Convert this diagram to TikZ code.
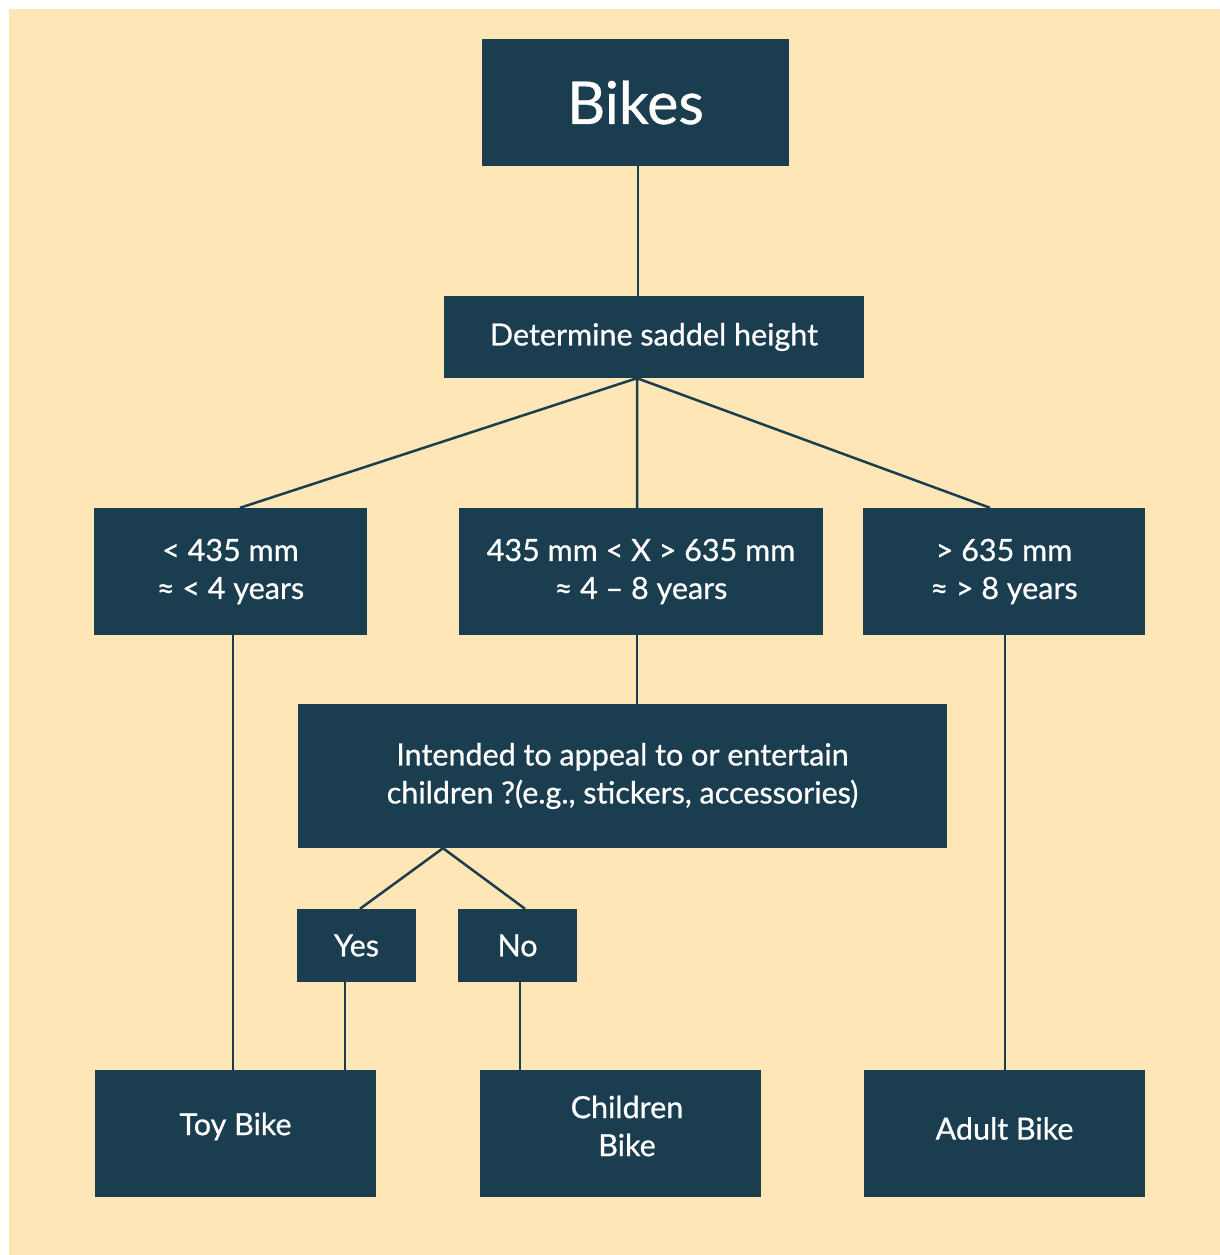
\documentclass[tikz,border=0pt]{standalone}
\usepackage{fontspec}
\setmainfont{Lato}[FakeBold=0.7,UprightFeatures={FakeBold=0.7}]
\definecolor{boxblue}{HTML}{1B3D50}
\definecolor{paper}{HTML}{FEE6B6}
\newcommand{\lift}[2]{\raisebox{#1}[\height][\depth]{#2}}
\begin{document}
\begin{tikzpicture}[
 x=1pt,y=-1pt,
 box/.style={fill=boxblue,draw=none,text=white,inner sep=0pt,align=center,
  font=\fontsize{30.5}{38}\selectfont},
 leaf/.style={box,minimum width=281pt,minimum height=127pt},
 ans/.style={box,minimum width=119pt,minimum height=73pt},
 link/.style={draw=boxblue,line width=2.5pt},
 ]
 \useasboundingbox (0,0) rectangle (1220,1255);
 \fill[paper] (9,9) rectangle (1220,1255);

 \node[box,minimum width=307pt,minimum height=127pt,font=\fontsize{59}{70}\selectfont] (bikes) at (635.5,102.5) {Bikes};
 \node[box,minimum width=420pt,minimum height=82pt] (saddle) at (654,337) {Determine saddel height};

 %Altersgruppen
 \node[box,minimum width=273pt,minimum height=127pt] (small) at (230.5,571.5) {< 435 mm\\≈ < 4 years};
 \node[box,minimum width=364pt,minimum height=127pt] (medium) at (641,571.5) {435 mm < X > 635 mm\\≈ 4 – 8 years};
 \node[box,minimum width=282pt,minimum height=127pt] (large) at (1004,571.5) {> 635 mm\\≈ > 8 years};

 \node[box,minimum width=649pt,minimum height=144pt] (appeal) at (622.5,776) {Intended to appeal to or entertain\\children ?(e.g., stickers, accessories)};
 \node[ans] (yes) at (356.5,945.5) {Yes};
 \node[ans] (no) at (517.5,945.5) {No};

 %Ergebnis
 \node[leaf] (toy) at (235.5,1133.5) {\lift{7pt}{Toy Bike}};
 \node[leaf] (child) at (620.5,1133.5) {\hspace{13pt}\lift{4pt}{\begin{tabular}{@{}c@{}}Children\\Bike\end{tabular}}};
 \node[leaf] (adult) at (1004.5,1133.5) {\lift{5pt}{Adult Bike}};

 \draw[link] ([xshift=2.5pt]bikes.south) -- ([xshift=-16pt]saddle.north);
 \draw[link] ([xshift=-17pt]saddle.south) -- ([xshift=9.5pt]small.north)
 	([xshift=-17pt]saddle.south) -- ([xshift=-4pt]medium.north)
 	([xshift=-17pt]saddle.south) -- ([xshift=-14pt]large.north);
 \draw[link] ([xshift=2.5pt]small.south) -- ([xshift=-2.5pt]toy.north);
 \draw[link] ([xshift=-4pt]medium.south) -- ([xshift=14.5pt]appeal.north);
 \draw[link] ([xshift=-179.5pt]appeal.south) -- ([xshift=3.5pt]yes.north)
 	([xshift=-179.5pt]appeal.south) -- ([xshift=7.5pt]no.north);
 \draw[link] ([xshift=-11.5pt]yes.south) -- ([xshift=109.5pt]toy.north);
 \draw[link] ([xshift=2.5pt]no.south) -- ([xshift=-100.5pt]child.north);
 \draw[link] ([xshift=1pt]large.south) -- ([xshift=0.5pt]adult.north);
\end{tikzpicture}
\end{document}
